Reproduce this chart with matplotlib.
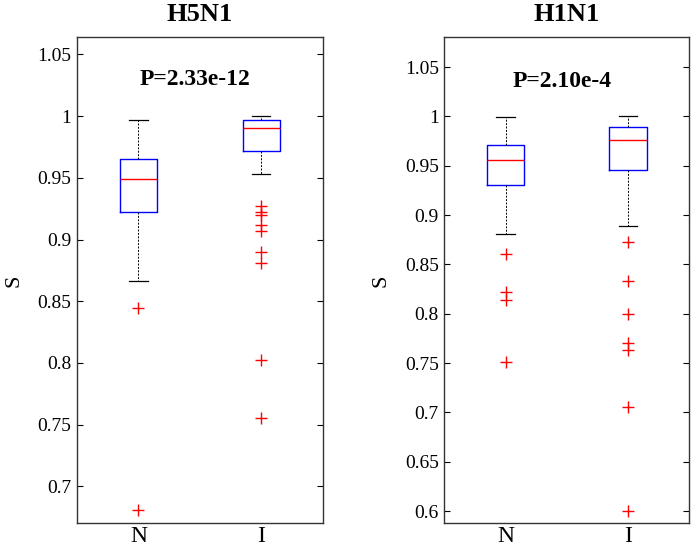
import matplotlib.pyplot as plt

# valori (box: whislo, q1, med, q3, whishi)
groups = ['N', 'I']

h5_N_stats = [0.866, 0.922, 0.949, 0.965, 0.997]
h5_N_out = [0.8445, 0.681]
h5_I_stats = [0.9535, 0.9716, 0.990, 0.9965, 1.000]
h5_I_out = [0.927, 0.922, 0.920, 0.912, 0.907, 0.890, 0.881, 0.802, 0.755]

h1_N_stats = [0.881, 0.931, 0.956, 0.971, 0.999]
h1_N_out = [0.861, 0.8225, 0.8136, 0.7516]
h1_I_stats = [0.889, 0.946, 0.976, 0.989, 1.000]
h1_I_out = [0.873, 0.833, 0.7995, 0.770, 0.763, 0.705, 0.600]

h5_ticks = [0.7, 0.75, 0.8, 0.85, 0.9, 0.95, 1, 1.05]
h5_ticklabels = ['0.7', '0.75', '0.8', '0.85', '0.9', '0.95', '1', '1.05']
h1_ticks = [0.6, 0.65, 0.7, 0.75, 0.8, 0.85, 0.9, 0.95, 1, 1.05]
h1_ticklabels = ['0.6', '0.65', '0.7', '0.75', '0.8', '0.85', '0.9', '0.95', '1', '1.05']

plt.rcParams['font.family'] = ['Liberation Serif', 'DejaVu Serif']


def make_stats(s, out, label):
	return dict(whislo=s[0], q1=s[1], med=s[2], q3=s[3], whishi=s[4], fliers=out, label=label)


def draw(ax, stats, title, ptext, ylim, ticks, ticklabels):
	ax.bxp(stats, positions=[1, 2], widths=0.305,
		   boxprops=dict(color='blue', linewidth=1.0),
		   medianprops=dict(color='red', linewidth=1.0),
		   whiskerprops=dict(color='black', linestyle=(0, (2, 1.5)), linewidth=0.7),
		   capprops=dict(color='black', linewidth=0.9),
		   flierprops=dict(marker='+', markeredgecolor='red', markersize=9, markeredgewidth=1.0, linestyle='none'),
		   capwidths=0.15)
	ax.set_xlim(0.5, 2.5)
	ax.set_ylim(*ylim)
	ax.set_yticks(ticks)
	ax.set_yticklabels(ticklabels, fontsize=14)
	ax.set_xticks([1, 2])
	ax.set_xticklabels(groups, fontsize=17)
	ax.tick_params(axis='y', direction='in', right=True, length=4, pad=4)
	ax.tick_params(axis='x', direction='in', length=0, pad=2)
	for sp in ax.spines.values():
		sp.set_color('#333333')
		sp.set_linewidth(1.0)
	ax.set_ylabel('S', fontsize=16, labelpad=10)
	ax.set_title(title, fontsize=19, fontweight='bold', pad=12)
	ax.text(1.46, ptext, 'P=' + ('2.33e-12' if title == 'H5N1' else '2.10e-4'),
			ha='center', va='center', fontsize=17, fontweight='bold')


fig = plt.figure(figsize=(6.96, 5.49), dpi=100)
ax1 = fig.add_axes([0.1106, 0.0468, 0.353, 0.885])
ax2 = fig.add_axes([0.6384, 0.0468, 0.3518, 0.885])

draw(ax1, [make_stats(h5_N_stats, h5_N_out, 'N'), make_stats(h5_I_stats, h5_I_out, 'I')],
	 'H5N1', 1.030, (0.670, 1.0638), h5_ticks, h5_ticklabels)
draw(ax2, [make_stats(h1_N_stats, h1_N_out, 'N'), make_stats(h1_I_stats, h1_I_out, 'I')],
	 'H1N1', 1.0358, (0.5876, 1.0801), h1_ticks, h1_ticklabels)

fig.savefig('out.png', dpi=100)
